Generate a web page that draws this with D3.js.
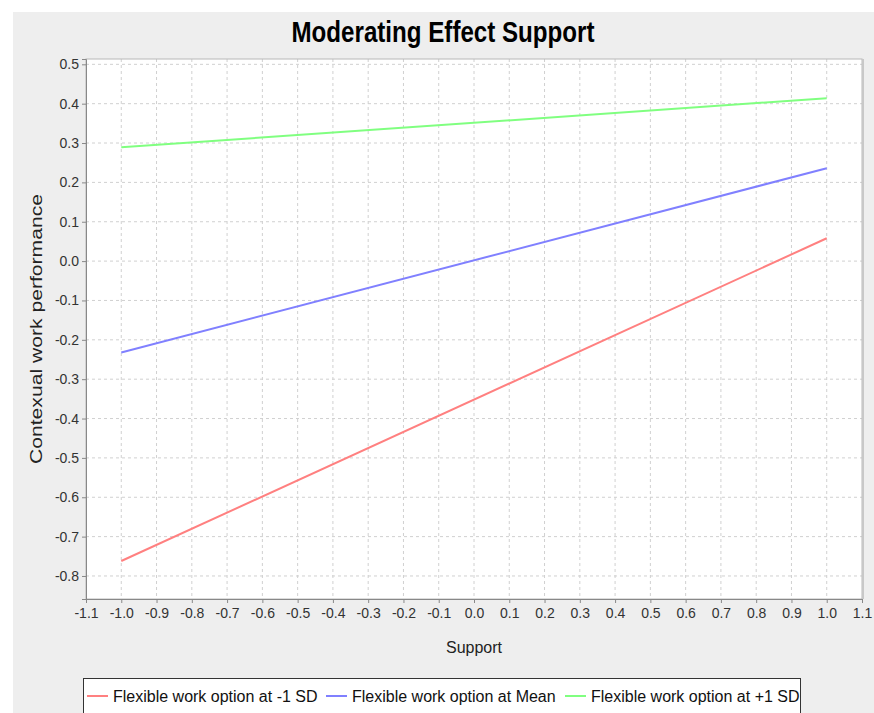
<!DOCTYPE html>
<html><head><meta charset="utf-8">
<script src="https://cdn.jsdelivr.net/npm/d3@7"></script>
<style>body{margin:0;background:#fff}svg{display:block}</style>
</head><body>
<svg id="c" width="874" height="713"></svg>
<script>
const seriesNames = ["Flexible work option at -1 SD","Flexible work option at Mean","Flexible work option at +1 SD"];
const seriesColors = ["#ff8080","#8080ff","#80ff80"];
const xValues = [-1.0, 1.0];
const lowValues = [-0.762, 0.058];
const meanValues = [-0.232, 0.236];
const highValues = [0.289, 0.414];
const xTicks = d3.range(-11, 12).map(d => d / 10);
const yTicks = d3.range(-8, 6).map(d => d / 10);
const title = "Moderating Effect Support";
const xLabel = "Support";
const yLabel = "Contexual work performance";

const svg = d3.select("#c");
svg.append("rect").attr("x",13).attr("y",12).attr("width",861).attr("height",701).attr("fill","#eeeeee");

const L=86, R=862, T=59, B=599;
const x = d3.scaleLinear().domain([-1.1,1.1]).range([L,R]);
const y = d3.scaleLinear().domain([-0.8585,0.5135]).range([B,T]);

svg.append("rect").attr("x",L).attr("y",T).attr("width",R-L).attr("height",B-T).attr("fill","#fff");

// gridlines
svg.append("g").selectAll("line").data(xTicks.slice(1,-1)).join("line")
  .attr("x1",d=>x(d)).attr("x2",d=>x(d)).attr("y1",T).attr("y2",B)
  .attr("stroke","#d0d0d0").attr("stroke-dasharray","3,3");
svg.append("g").selectAll("line").data(yTicks).join("line")
  .attr("y1",d=>y(d)).attr("y2",d=>y(d)).attr("x1",L).attr("x2",R)
  .attr("stroke","#d0d0d0").attr("stroke-dasharray","3,3");

// plot border
svg.append("rect").attr("x",L).attr("y",T).attr("width",R-L).attr("height",B-T)
  .attr("fill","none").attr("stroke","#b8b8b8");
svg.append("line").attr("x1",R+1).attr("x2",R+1).attr("y1",T).attr("y2",B).attr("stroke","#c8c8c8").attr("stroke-width",2);

const tickFont = "'Liberation Sans', Arial, sans-serif";
// axes
const xAxis = svg.append("g").attr("transform",`translate(0,${B})`)
  .call(d3.axisBottom(x).tickValues(xTicks).tickFormat(d3.format(".1f")).tickSize(4).tickPadding(5));
const yAxis = svg.append("g").attr("transform",`translate(${L},0)`)
  .call(d3.axisLeft(y).tickValues(yTicks).tickFormat(d3.format(".1f")).tickSize(4).tickPadding(3));
[xAxis,yAxis].forEach(a=>{
  a.select(".domain").attr("stroke","#888");
  a.selectAll(".tick line").attr("stroke","#888");
  a.selectAll(".tick text").attr("fill","#333").style("font-family",tickFont).style("font-size","14px")
   .text(function(){return d3.select(this).text().replace("−","-");});
});

// lines
const data = [lowValues, meanValues, highValues];
const line = d3.line().x((d,i)=>x(xValues[i])).y(d=>y(d));
svg.append("g").selectAll("path").data(data).join("path")
  .attr("d",line).attr("fill","none").attr("stroke",(d,i)=>seriesColors[i]).attr("stroke-width",2);

// title
svg.append("text").attr("x",443).attr("y",42).attr("text-anchor","middle")
  .attr("textLength",303).attr("lengthAdjust","spacingAndGlyphs")
  .style("font-family","'Liberation Sans', Arial, sans-serif").style("font-weight","bold").style("font-size","29px")
  .attr("fill","#000").text(title);

// axis labels
svg.append("text").attr("x",(L+R)/2).attr("y",653).attr("text-anchor","middle")
  .style("font-family",tickFont).style("font-size","16px").attr("fill","#222").text(xLabel);
svg.append("text").attr("transform",`translate(42,${(T+B)/2}) rotate(-90)`).attr("text-anchor","middle")
  .attr("textLength",270).attr("lengthAdjust","spacingAndGlyphs")
  .style("font-family",tickFont).style("font-size","17px").attr("fill","#222").text(yLabel);

// legend
svg.append("rect").attr("x",83.5).attr("y",678.5).attr("width",717).attr("height",40)
  .attr("fill","#fff").attr("stroke","#333");
const legX = [87, 326, 565];
const lg = svg.append("g").selectAll("g").data(seriesNames).join("g")
  .attr("transform",(d,i)=>`translate(${legX[i]},696)`);
lg.append("line").attr("x1",0).attr("x2",21).attr("y1",0).attr("y2",0)
  .attr("stroke",(d,i)=>seriesColors[i]).attr("stroke-width",2);
lg.append("text").attr("x",26).attr("y",5.5)
  .style("font-family",tickFont).style("font-size","16px").attr("fill","#111").text(d=>d);
</script>
</body></html>
